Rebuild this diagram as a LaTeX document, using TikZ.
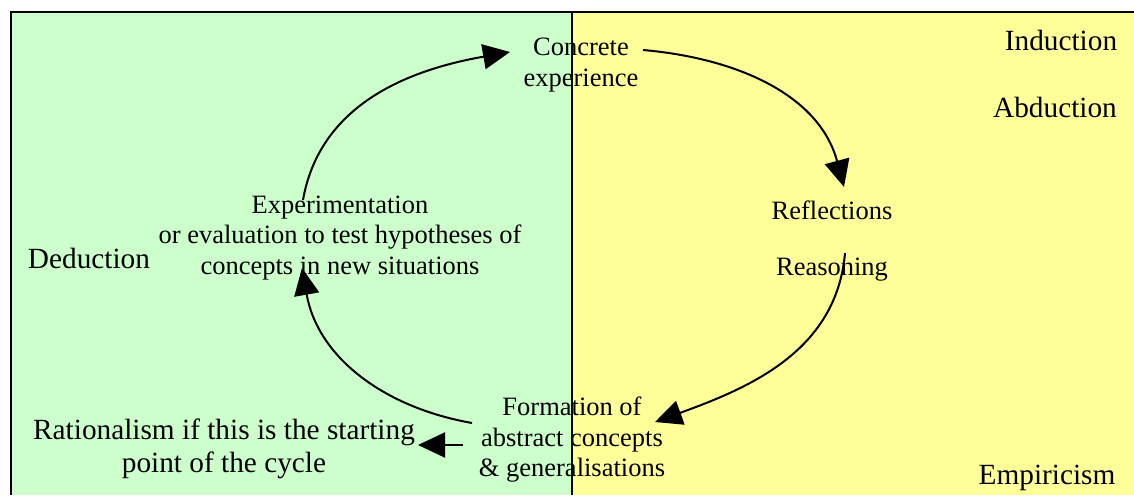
\documentclass[tikz,border=0pt]{standalone}
\usepackage{fontspec}
\setmainfont{Liberation Serif}
\usetikzlibrary{arrows.meta}
\definecolor{mintgreen}{HTML}{CCFFCC}
\definecolor{paleyellow}{HTML}{FFFF99}

\begin{document}
\begin{tikzpicture}[x=1pt, y=1pt]
\tikzset{phase/.style = {align=center, inner sep=0pt, font=\fontsize{26.5}{30.5}\selectfont}}
    \tikzset{school/.style = {align=center, inner sep=0pt, font=\fontsize{29.3}{33}\selectfont}}
    \tikzset{flow/.style = {draw=black, line width=2pt, -{Triangle[length=27pt, width=25pt]}}}
\useasboundingbox (0,0) rectangle (1134,495);
\clip (0,0) rectangle (1134,495);
% the two halves of the frame
\fill[mintgreen] (11,0) rectangle (572,483);
\fill[paleyellow] (572,0) rectangle (1134,483);
\draw[line width=2pt] (11,0) -- (11,483) -- (1134,483);
\draw[line width=2pt] (572,0) -- (572,483);

% Define the stages of the cycle
\node[phase] (concrete) at (581,430){Concrete\\experience};
\node[phase] (reflect) at (832,285){Reflections};
\node[phase] (reason) at (832,225){Reasoning};
\node[phase] (formation) at (572,55){Formation of\\abstract concepts\\\& generalisations};
\node[phase] (experiment) at (340,257){Experimentation\\or evaluation to test hypotheses of\\concepts in new situations};
\node[school] (deduction) at (89,237){Deduction};
\node[school] (induction) at (1061,455){Induction};
\node[school] (abduction) at (1055,388){Abduction};
\node[school] (empiricism) at (1047,17){Empiricism};
\node[school] (rationalism) at (224,46){Rationalism if this is the starting\\point of the cycle};

\coordinate (c1) at (643,445);
\coordinate (c2) at (844,308);
\coordinate (r1) at (845,242);
\coordinate (r2) at (655,73);
\coordinate (f1) at (472,72);
\coordinate (f2) at (302,227);
\coordinate (e1) at (303,295);
\coordinate (e2) at (510,443);
\coordinate (s1) at (463,50);
\coordinate (s2) at (418,50);

% Draw the cycle
\draw[flow] (c1) to[out=-5, in=105] (c2);
\draw[flow] (r1) to[out=-95, in=20] (r2);
\draw[flow] (f1) to[out=170, in=-80] (f2);
\draw[flow] (e1) to[out=80, in=190] (e2);
\draw[flow] (s1) to (s2);

\end{tikzpicture}
\end{document}
